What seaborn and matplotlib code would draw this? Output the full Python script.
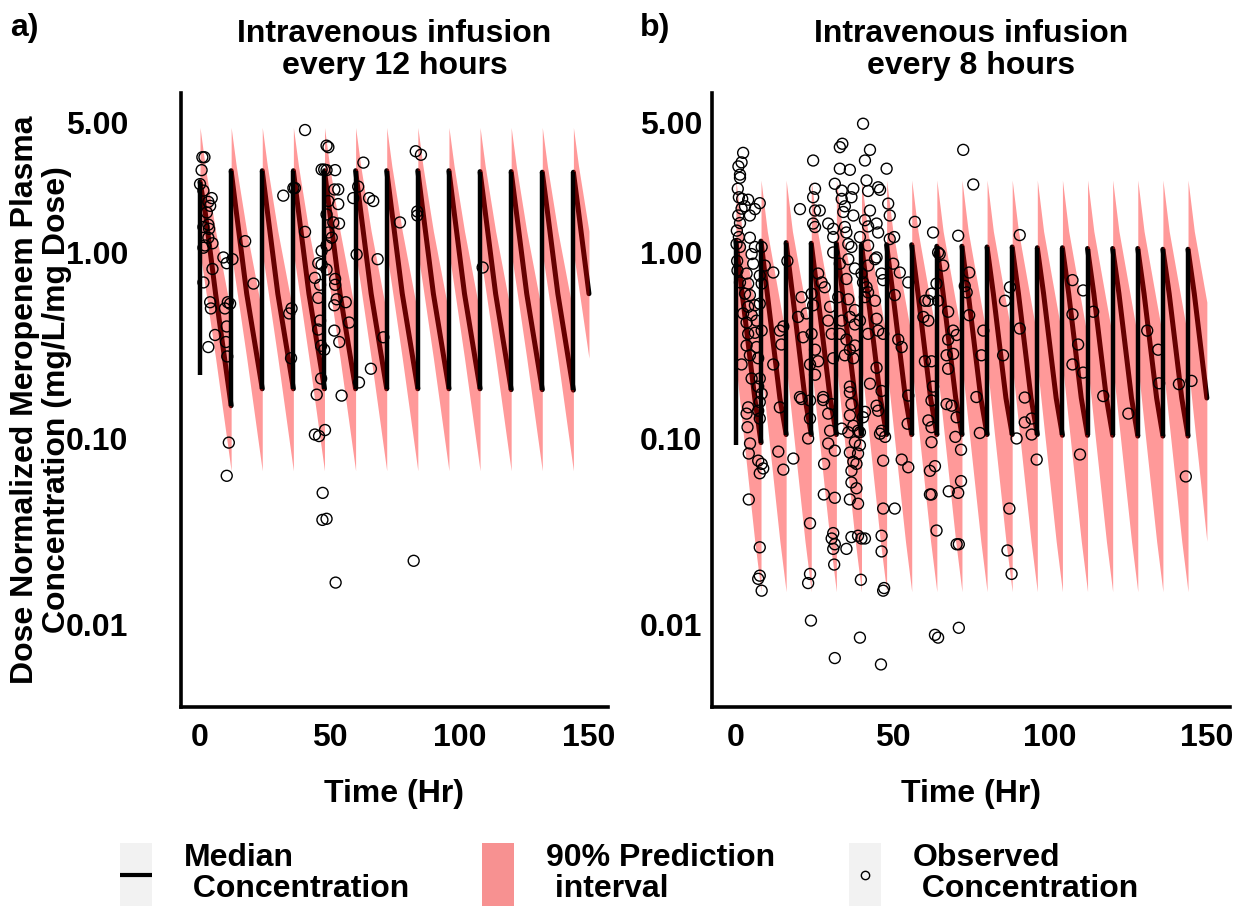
import matplotlib
matplotlib.use("Agg")
import matplotlib.pyplot as plt
from matplotlib.legend_handler import HandlerLine2D, HandlerTuple
from matplotlib.lines import Line2D
from matplotlib.patches import Patch
from matplotlib.ticker import NullLocator
import numpy as np
import pandas as pd
import seaborn as sns

#%% Simulated profiles
# a) infusion every 12 h
dose_a = [0, 12, 24, 36, 48, 60, 72, 84, 96, 108, 120, 132, 144]
start_a = 0.22                                   # median just before first dose
peak_a = [2.4, 2.75, 2.75, 2.75, 2.75, 2.75, 2.75, 2.75, 2.75, 2.72, 2.72, 2.7, 2.7]
trough_a = [0.15, 0.185, 0.185, 0.185, 0.185, 0.185, 0.185, 0.185, 0.185, 0.183, 0.183, 0.182, 0.18]
offset_a = [0, 2, 6, 12]                         # hours after each dose
med_mid_a = [1.65, 0.6]                          # median at +2 h and +6 h
upper_a = [4.7, 2.9, 1.3, 0.47]                  # 95th percentile
lower_a = [1.0, 0.65, 0.27, 0.067]               # 5th percentile

# b) infusion every 8 h
dose_b = [0, 8, 16, 24, 32, 40, 48, 56, 64, 72, 80, 88, 96, 104, 112, 120, 128, 136, 144]
start_b = 0.092
peak_b = [1.15, 1.15, 1.13, 1.12, 1.12, 1.1, 1.1, 1.1, 1.08, 1.08, 1.07, 1.07, 1.06, 1.06,
          1.05, 1.05, 1.05, 1.04, 1.04]
trough_b = [0.095, 0.105, 0.105, 0.105, 0.105, 0.105, 0.105, 0.105, 0.105, 0.105, 0.105,
            0.105, 0.104, 0.104, 0.104, 0.103, 0.103, 0.103, 0.103]
offset_b = [0, 2, 6, 8]
med_mid_b = [0.6, 0.165]
upper_b = [2.45, 1.3, 0.54, 0.35]
lower_b = [0.25, 0.12, 0.028, 0.015]

#%% Observed concentrations (time, conc)
obs_a = [(0.9, 3.25), (1.7, 3.25), (0.6, 2.77), (0.0, 2.33), (1.3, 2.15), (4.5, 1.96), (3.2, 1.87),
         (3.9, 1.78), (2.6, 1.64), (3.2, 1.41), (1.3, 1.37), (3.5, 1.34), (3.2, 1.20), (4.8, 1.12),
         (1.9, 1.09), (1.3, 1.06), (9.0, 0.94), (10.3, 0.875), (12.5, 0.92), (4.8, 0.815), (1.3, 0.69),
         (17.4, 1.15), (20.6, 0.68), (3.9, 0.54), (4.2, 0.50), (9.6, 0.50), (10.7, 0.54), (11.6, 0.53),
         (10.3, 0.40), (5.8, 0.36), (3.2, 0.31), (10.0, 0.33), (10.5, 0.276), (11.1, 0.095), (10.3, 0.063),
         (32.1, 2.02), (36.6, 2.22), (36.0, 2.22), (40.5, 4.55), (40.5, 1.29), (35.3, 0.50), (34.4, 0.47),
         (35.1, 0.27),
         (48.8, 3.75), (49.5, 3.68), (46.9, 2.79), (47.9, 2.79), (48.8, 2.77), (52.1, 2.77), (51.8, 2.18),
         (53.3, 2.18), (49.5, 1.89), (53.3, 1.82), (48.8, 1.60), (51.4, 1.45), (53.6, 1.43), (49.5, 1.28),
         (50.8, 1.20), (48.8, 1.09), (46.9, 1.02), (45.6, 0.875), (46.9, 0.86), (48.8, 0.81), (44.3, 0.73),
         (46.3, 0.67), (52.1, 0.72), (52.1, 0.67), (45.6, 0.57), (52.7, 0.56), (56.2, 0.54), (51.8, 0.52),
         (46.3, 0.43), (45.6, 0.385), (57.5, 0.42), (51.8, 0.38), (53.7, 0.33), (46.7, 0.315), (47.9, 0.30),
         (46.7, 0.21), (45.0, 0.172), (54.6, 0.17), (44.3, 0.105), (45.9, 0.103), (48.2, 0.111),
         (47.3, 0.051), (47.2, 0.0365), (48.8, 0.037), (52.3, 0.0168),
         (63.0, 3.04), (61.0, 2.26), (59.1, 1.96), (65.2, 1.96), (66.8, 1.89), (60.4, 0.975), (68.5, 0.92),
         (70.7, 0.35), (65.9, 0.237), (61.3, 0.20), (77.1, 1.45), (83.2, 3.5), (85.2, 3.35), (83.8, 1.66),
         (83.8, 1.58), (82.4, 0.022), (109.0, 0.83)]

obs_b_top_left = [
    (2.3, 3.43), (1.8, 3.05), (1.3, 2.62), (1.3, 2.52), (0.95, 1.98), (2.0, 1.94), (3.9, 1.92), (0.74, 1.58),
    (1.8, 1.72), (4.45, 1.58), (6.05, 1.71), (7.6, 1.84), (2.9, 1.77), (1.3, 1.44), (0.95, 1.21), (1.3, 1.07),
    (4.45, 1.2), (6.05, 1.07), (8.2, 1.07), (5.0, 0.98), (5.5, 0.87), (9.2, 0.85), (11.9, 0.78), (7.6, 0.75),
    (3.4, 0.77), (1.3, 0.69), (3.9, 0.68), (8.2, 0.68), (2.9, 0.6), (4.45, 0.59), (3.9, 0.51), (6.05, 0.52),
    (2.3, 0.47), (5.0, 0.46), (7.6, 0.53), (3.4, 0.42), (6.6, 0.43), (8.2, 0.38), (3.9, 0.365), (6.05, 0.37),
    (3.4, 0.316), (6.6, 0.31), (4.45, 0.28), (7.1, 0.27), (1.8, 0.25), (5.0, 0.21), (7.6, 0.21), (7.1, 0.19),
    (8.2, 0.174), (0.3, 1.31), (0.2, 1.11), (0.4, 0.9), (0.5, 0.8), (0.6, 2.2), (0.8, 2.9),
    (14.0, 0.38), (11.9, 0.25), (15.1, 0.40), (14.5, 0.32), (20.4, 1.71), (16.4, 0.9), (20.9, 0.575),
    (19.8, 0.45), (21.4, 0.35), (20.4, 0.167), (24.6, 3.12), (25.2, 2.2), (24.6, 1.98), (25.2, 1.68),
    (26.7, 1.68), (24.6, 1.43), (25.2, 1.37), (24.1, 0.6), (24.6, 0.52), (26.2, 0.77), (27.3, 0.69),
    (28.3, 0.65), (22.5, 0.47), (24.1, 0.365), (25.2, 0.30), (26.2, 0.26), (23.6, 0.25), (25.2, 0.22),
    (27.8, 0.167), (30.0, 0.51), (29.4, 0.43), (30.5, 0.365), (31.0, 0.27), (29.4, 1.43), (31.0, 1.34),
    (31.5, 2.34), (31.0, 1.21), (31.0, 1.0)]

obs_b_top_mid = [
    (40.5, 4.92), (33.1, 3.68), (33.9, 3.84), (42.7, 3.56), (41.1, 3.12), (33.1, 2.82), (36.3, 2.78),
    (48.0, 2.82), (41.6, 2.44), (33.7, 2.15), (37.4, 2.2), (45.3, 2.24), (45.9, 2.17), (42.1, 2.14),
    (48.5, 1.83), (33.7, 1.94), (34.7, 1.77), (36.8, 1.98), (34.2, 1.65), (42.7, 1.68), (49.0, 1.58),
    (37.4, 1.58), (41.1, 1.49), (42.1, 1.38), (44.8, 1.43), (34.7, 1.37), (35.2, 1.28), (45.3, 1.28),
    (57.0, 1.46), (35.8, 1.11), (36.8, 1.07), (39.5, 1.21), (49.0, 1.18), (50.4, 1.21), (42.1, 1.09),
    (44.3, 0.92), (62.8, 1.28), (70.8, 1.23), (64.4, 1.0), (64.9, 0.98), (33.1, 0.87), (35.8, 0.92),
    (37.9, 0.82), (35.2, 0.72), (40.0, 0.77), (42.1, 0.85), (44.8, 0.94), (46.4, 0.77), (46.9, 0.71),
    (50.1, 0.87), (52.2, 0.78), (54.9, 0.69), (63.9, 0.68), (66.0, 0.85), (62.3, 0.6), (60.2, 0.55),
    (61.3, 0.55), (64.4, 0.55), (40.5, 0.69), (41.6, 0.65), (42.1, 0.61), (41.1, 0.575), (32.6, 0.575),
    (35.8, 0.56), (37.9, 0.49), (44.3, 0.55), (50.6, 0.59), (59.7, 0.45), (61.3, 0.43), (67.6, 0.48),
    (33.7, 0.43), (36.3, 0.45), (37.9, 0.41), (39.5, 0.43), (44.8, 0.44), (45.3, 0.38), (42.1, 0.365),
    (46.9, 0.365), (69.2, 0.38), (70.3, 0.36), (67.6, 0.34), (33.1, 0.365), (35.2, 0.34), (37.9, 0.316),
    (51.7, 0.34), (52.8, 0.31), (36.3, 0.30), (37.4, 0.27), (34.7, 0.28), (67.1, 0.28), (69.2, 0.285),
    (60.2, 0.26), (62.3, 0.26), (44.8, 0.24), (67.6, 0.237), (36.3, 0.19), (42.7, 0.197), (46.4, 0.18),
    (62.8, 0.19), (54.9, 0.17)]

obs_b_low_left = [
    (3.9, 0.147), (3.4, 0.136), (3.7, 0.115), (4.5, 0.094), (4.1, 0.083), (7.6, 0.157), (7.1, 0.141),
    (7.6, 0.128), (7.1, 0.076), (8.2, 0.073), (8.7, 0.069), (7.6, 0.065), (4.1, 0.047), (7.6, 0.026),
    (7.6, 0.0183), (7.1, 0.0176), (8.2, 0.0152), (14.0, 0.147), (13.5, 0.085), (15.1, 0.068), (18.3, 0.078),
    (20.9, 0.163), (23.6, 0.16), (23.6, 0.128), (23.0, 0.1), (27.8, 0.161), (29.4, 0.136), (30.5, 0.153),
    (30.0, 0.11), (29.4, 0.094), (31.5, 0.086), (28.1, 0.073), (28.0, 0.05), (31.5, 0.048), (23.6, 0.035),
    (31.0, 0.031), (30.5, 0.029), (31.5, 0.027), (31.0, 0.0255), (31.3, 0.021), (23.6, 0.0187),
    (23.0, 0.0167), (23.9, 0.0105), (31.5, 0.0066)]

obs_b_low_mid = [
    (36.3, 0.177), (36.8, 0.153), (36.3, 0.133), (37.4, 0.117), (35.8, 0.108), (38.9, 0.110), (37.9, 0.0955),
    (36.3, 0.084), (38.9, 0.083), (37.4, 0.075), (38.4, 0.073), (36.8, 0.067), (36.8, 0.058), (38.4, 0.054),
    (36.3, 0.047), (38.9, 0.0446), (41.1, 0.139), (40.5, 0.13), (39.5, 0.108), (39.5, 0.092), (33.7, 0.113),
    (35.2, 0.0255), (36.8, 0.0295), (38.9, 0.030), (40.0, 0.029), (41.1, 0.029), (39.8, 0.0174),
    (39.5, 0.0085), (44.8, 0.15), (45.3, 0.141), (46.4, 0.11), (45.9, 0.106), (47.5, 0.102), (46.9, 0.076),
    (46.9, 0.042), (50.6, 0.042), (46.4, 0.030), (46.4, 0.0247), (47.2, 0.0157), (46.9, 0.0152),
    (46.2, 0.0061), (52.8, 0.077), (54.9, 0.07), (54.7, 0.12), (62.3, 0.16), (61.3, 0.125), (62.3, 0.115),
    (62.3, 0.0955), (61.8, 0.067), (63.4, 0.071), (61.8, 0.05), (62.3, 0.05), (63.9, 0.032), (63.4, 0.0088),
    (64.4, 0.0085), (67.1, 0.153), (68.7, 0.15), (70.3, 0.13), (69.9, 0.102), (71.7, 0.087), (67.8, 0.052),
    (70.8, 0.051), (71.7, 0.059), (70.3, 0.027), (71.0, 0.027), (71.0, 0.0096)]

obs_b_right = [
    (72.4, 3.56), (75.6, 2.32), (90.4, 1.24), (74.3, 0.78), (72.9, 0.66), (73.5, 0.61), (74.3, 0.46),
    (78.8, 0.38), (78.2, 0.28), (76.6, 0.167), (77.7, 0.107), (87.3, 0.65), (85.7, 0.55), (90.4, 0.39),
    (85.1, 0.28), (92.0, 0.166), (92.0, 0.122), (94.2, 0.128), (94.2, 0.105), (89.4, 0.1), (95.8, 0.077),
    (87.1, 0.042), (86.5, 0.025), (87.8, 0.0187), (107.2, 0.71), (110.6, 0.625), (113.8, 0.48),
    (107.2, 0.465), (109.0, 0.32), (107.2, 0.25), (110.6, 0.226), (117.0, 0.169), (109.6, 0.082),
    (125.0, 0.136), (131.0, 0.38), (134.5, 0.30), (134.8, 0.198), (141.1, 0.196), (145.1, 0.204),
    (143.3, 0.0625)]

obs_b = obs_b_top_left + obs_b_top_mid + obs_b_low_left + obs_b_low_mid + obs_b_right

ytick_vals = [0.01, 0.1, 1, 5]
ytick_labels = ["0.01", "0.10", "1.00", "5.00"]
xtick_vals = [0, 50, 100, 150]


#%% Helpers
def build_profile(doses, peaks, troughs, offsets, med_mid, upper, lower, t_end=150):
    ''' Table of median / PI values per dosing cycle '''
    rows = []
    for k, d in enumerate(doses):
        med = [peaks[k]] + list(med_mid) + [troughs[k]]
        for off, m, hi, lo in zip(offsets, med, upper, lower):
            if d + off > t_end:
                break
            rows.append((k, d + off, m, lo, hi))
    return pd.DataFrame(rows, columns=['cycle', 'Time', 'Median', 'Lower', 'Upper'])


class CenteredLineHandler(HandlerLine2D):
    ''' Legend line/marker drawn in the middle of a tall key '''
    def create_artists(self, legend, orig_handle, xdescent, ydescent, width, height, fontsize, trans):
        artists = super().create_artists(legend, orig_handle, xdescent, ydescent, width, height,
                                         fontsize, trans)
        for a in artists:
            a.set_ydata(np.asarray(a.get_ydata()) - ydescent / 2)
        return artists


def draw_panel(ax, prof, doses, start, peaks, troughs, obs, title, ytick_pad):
    # median (under the ribbon -> dark red)
    sns.lineplot(data=prof, x='Time', y='Median', units='cycle', estimator=None, sort=False,
                 color='black', linewidth=3.6, ax=ax, zorder=2)
    # 90% prediction interval
    for _, grp in prof.groupby('cycle'):
        ax.fill_between(grp['Time'], grp['Lower'], grp['Upper'], color='red', alpha=0.4,
                        linewidth=0, zorder=3)
    # infusion rises
    ax.vlines(doses, [start] + troughs[:-1], peaks, color='black', linewidth=3.2, zorder=4)
    # observations
    df_obs = pd.DataFrame(obs, columns=['Time', 'Conc'])
    sns.scatterplot(data=df_obs, x='Time', y='Conc', s=62, color='black', linewidth=1.0,
                    ax=ax, zorder=5, legend=False)
    pts = ax.collections[-1]
    pts.set_facecolor('none')
    pts.set_edgecolor('black')

    ax.set_yscale('log')
    ax.set_ylim(0.0036, 7.2)
    ax.set_xlim(-7.5, 157.5)
    ax.set_yticks(ytick_vals)
    ax.set_yticklabels(ytick_labels)
    ax.yaxis.set_minor_locator(NullLocator())
    ax.set_xticks(xtick_vals)
    ax.set_xlabel('Time (Hr)', fontsize=23, fontweight='bold', labelpad=19, color='black')
    ax.set_ylabel('')
    ax.set_title(title, fontsize=23, fontweight='bold', pad=14, linespacing=1.08, color='black')

    sns.despine(ax=ax)
    for side in ['left', 'bottom']:
        ax.spines[side].set_linewidth(2.6)
        ax.spines[side].set_color('black')
    ax.tick_params(axis='both', which='major', length=5.5, width=1.6, color='black',
                   labelsize=23, labelcolor='black')
    ax.tick_params(axis='x', pad=6)
    ax.tick_params(axis='y', pad=ytick_pad)
    for lab in ax.get_xticklabels() + ax.get_yticklabels():
        lab.set_fontweight('bold')


#%% Figure
sns.set_style("white")
plt.rcParams['font.family'] = ['Liberation Sans', 'DejaVu Sans']
plt.rcParams['font.weight'] = 'bold'
plt.rcParams['text.color'] = 'black'
plt.rcParams['axes.labelcolor'] = 'black'

prof_a = build_profile(dose_a, peak_a, trough_a, offset_a, med_mid_a, upper_a, lower_a)
prof_b = build_profile(dose_b, peak_b, trough_b, offset_b, med_mid_b, upper_b, lower_b)

fig = plt.figure(figsize=(12.48, 9.06), dpi=100)
ax_a = fig.add_axes([0.1447, 0.2196, 0.3428, 0.6778])
ax_b = fig.add_axes([0.5708, 0.2196, 0.4151, 0.6778])

draw_panel(ax_a, prof_a, dose_a, start_a, peak_a, trough_a, obs_a,
           "Intravenous infusion\nevery 12 hours", ytick_pad=32)
draw_panel(ax_b, prof_b, dose_b, start_b, peak_b, trough_b, obs_b,
           "Intravenous infusion\nevery 8 hours", ytick_pad=2)

fig.text(0.008, 1 - 28 / 906, "a)", fontsize=23, fontweight='bold', va='center', ha='left')
fig.text(0.513, 1 - 28 / 906, "b)", fontsize=23, fontweight='bold', va='center', ha='left')
fig.text(41 / 1248, 1 - 400 / 906, "Dose Normalized Meropenem Plasma\nConcentration (mg/L/mg Dose)",
         fontsize=23, fontweight='bold', rotation=90, ha='center', va='center', linespacing=1.08)

# legend
key_bg = '#F2F2F2'
handles = [
    (Patch(facecolor=key_bg, edgecolor='none'),
     Line2D([], [], color='black', linewidth=3, solid_capstyle='butt')),
    (Patch(facecolor=key_bg, edgecolor='none'), Patch(facecolor='red', alpha=0.4, edgecolor='none')),
    (Patch(facecolor=key_bg, edgecolor='none'),
     Line2D([], [], linestyle='none', marker='o', markersize=6, markerfacecolor='none',
            markeredgecolor='black', markeredgewidth=1)),
]
labels = ["Median\n Concentration", "90% Prediction\n interval", "Observed\n Concentration"]
leg = fig.legend(handles, labels, ncol=3, loc='center', bbox_to_anchor=(0.504, 0.034),
                 frameon=False, handlelength=1.0, handleheight=2.75, handletextpad=1.0,
                 columnspacing=2.3, borderpad=0, prop={'size': 23, 'weight': 'bold'},
                 handler_map={tuple: HandlerTuple(ndivide=1, pad=0),
                              Line2D: CenteredLineHandler()})
for t in leg.get_texts():
    t.set_linespacing(1.08)

fig.savefig('out.png', dpi=100)
